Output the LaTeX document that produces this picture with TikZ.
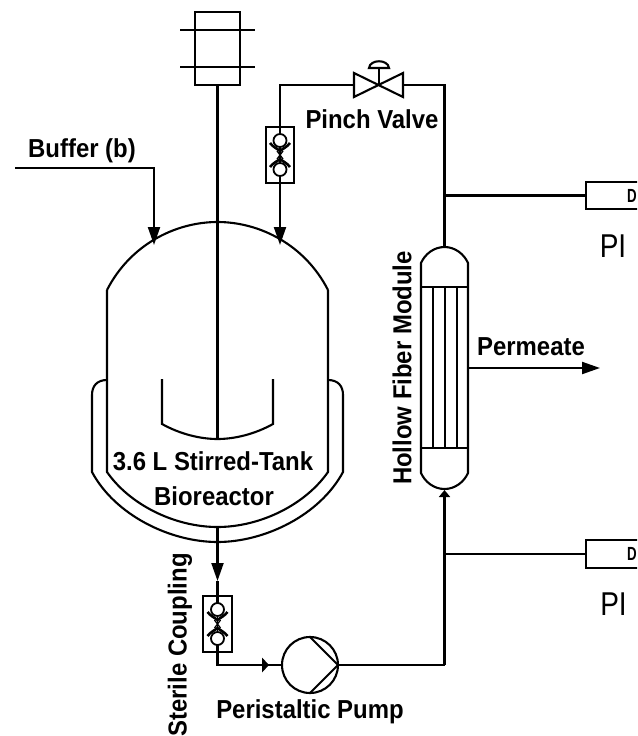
\documentclass[tikz,border=0pt]{standalone}
\usepackage{fontspec}
\setmainfont{Liberation Sans}
\usetikzlibrary{arrows.meta,calc}
\tikzset{
  lbl/.style={font=\fontsize{26}{28}\bfseries\selectfont,inner sep=0pt,xscale=.92},
  vlbl/.style={font=\fontsize{26}{28}\bfseries\selectfont,inner sep=0pt,rotate=90},
  boxn/.style={draw,inner sep=0pt,outer sep=0pt,rectangle},
  bigtip/.style={-{Triangle[length=18pt,width=12pt]}},
  pilabel/.style={font=\fontsize{33}{35}\selectfont,inner sep=0pt,xscale=.85},
  dlabel/.style={font=\fontsize{19}{21}\bfseries\selectfont,inner sep=0pt,anchor=west,xscale=.7},
}
\newcommand{\checkvalve}[1]{%
  \begin{scope}[shift={(#1)}]
    \draw[line width=1.8pt] (0,-14.5) circle[radius=6.5];
    \draw[line width=1.8pt] (0,14.5) circle[radius=6.5];
    \draw[line width=2.2pt] (0,-28) -- (0,-21);
    \draw[line width=2.2pt] (0,21) -- (0,28);
    \draw[line width=2.6pt] (-10,-12) .. controls (-7,-8) and (-3,-6.5) .. (0,-4) .. controls (3,-6.5) and (7,-8) .. (10,-12);
    \draw[line width=2.6pt] (-10,12) .. controls (-7,8) and (-3,6.5) .. (0,4) .. controls (3,6.5) and (7,8) .. (10,12);
    \draw[line width=1.3pt] (-3,-4) -- (3,4) (3,-4) -- (-3,4);
    \draw[line width=1.5pt] (0,-8) -- (0,8);
  \end{scope}}
\begin{document}
\begin{tikzpicture}[x=1pt,y=-1pt,line width=2.1pt]
\useasboundingbox (0,0) rectangle (637,736);
\clip (0,0) rectangle (637,736);

% named points
\coordinate (bufS) at (15,168);
\coordinate (bufC) at (154,168);
\coordinate (bufE) at (154,245);
\coordinate (shaftEnd) at (217.5,439);
\coordinate (vesBot) at (217.5,527);
\coordinate (jacBot) at (217.5,542);
\coordinate (retE) at (280,245);
\coordinate (tl) at (280,85);
\coordinate (tr) at (444.5,85);
\coordinate (modTop) at (444.5,247);
\coordinate (modBot) at (444.5,490);
\coordinate (br) at (444.5,665);
\coordinate (perm) at (600,368);
\coordinate (modR) at (468,368);
\coordinate (j1) at (444.5,195.5);
\coordinate (j2) at (444.5,554);
\coordinate (vL) at (354,85);
\coordinate (vR) at (403,85);
\coordinate (vC) at (379,85);

% motor
\node[boxn,minimum width=45pt,minimum height=73pt] (motor) at (217.5,48.5) {};
\draw (180,30) -- (255,30) (180,67) -- (255,67);
\draw (motor.south) -- (shaftEnd);

% vessel
\draw (107,290) .. controls (130,245) and (175,222) .. (217.5,222) .. controls (260,222) and (305,245) .. (328,290);
\draw (107,290) -- (107,472) .. controls (130,505) and (175,527) .. (vesBot) .. controls (260,527) and (305,505) .. (328,472) -- (328,290);
% jacket
\draw (107,380) .. controls (97,380) and (92,386) .. (92,395) -- (92,472) .. controls (115,515) and (170,542) .. (jacBot) .. controls (265,542) and (320,515) .. (343,472) -- (343,395) .. controls (343,386) and (338,380) .. (328,380);
% impeller
\draw (162,379) -- (162,424) .. controls (180,434) and (200,439) .. (shaftEnd) .. controls (235,439) and (255,434) .. (273,424) -- (273,379);

% buffer
\draw[bigtip] (bufS) -- (bufC) -- (bufE);

% top coupling
\node[boxn,minimum width=28pt,minimum height=56pt] (cplA) at (280,155) {};
\checkvalve{280,155}
\draw[bigtip] (cplA.south) -- (retE);
\draw (cplA.north) -- (tl) -- (vL);

% valve
\draw (354,73) -- (354,97) -- (403,73) -- (403,97) -- cycle;
\draw (vC) -- (379,68);
\draw (369,68) .. controls (370,59) and (388,59) .. (389,68) -- cycle;
\draw (vR) -- (tr) -- (modTop);

% module
\draw (444.5,247) .. controls (434,247) and (425,254) .. (421,263) -- (421,473) .. controls (425,482) and (434,489) .. (444.5,489) .. controls (455,489) and (464,482) .. (468,473) -- (468,263) .. controls (464,254) and (455,247) .. (444.5,247) -- cycle;
\draw (421,287) -- (468,287) (421,448) -- (468,448);
\draw (433,287) -- (433,448) (445,287) -- (445,448) (457,287) -- (457,448);
\draw[bigtip] (modR) -- (perm);

% bottom coupling
\node[boxn,minimum width=29pt,minimum height=56pt] (cplB) at (217.5,624) {};
\checkvalve{217.5,624}
\coordinate (tipB) at (217.5,581);
\draw[bigtip] (jacBot) -- (tipB);
\draw (vesBot) -- (jacBot);
\draw (tipB) -- (cplB.north);

% pump
\node[draw,circle,minimum size=56pt,inner sep=0pt,outer sep=0pt] (pump) at (310,665) {};
\draw (310,637) -- (pump.east) -- (310,693);
\coordinate (cplC) at (217.5,665);
\draw (cplB.south) -- (cplC) -- (pump.west);
\fill (262,657.5) -- (269,665) -- (262,672.5) -- cycle;
\draw (pump.east) -- (br);
\draw[-{Triangle[length=7pt,width=11pt]}] (br) -- (modBot);

% PI boxes
\node[boxn,minimum width=80pt,minimum height=27pt,anchor=west] (pia) at (586,195.5) {};
\node[boxn,minimum width=80pt,minimum height=28pt,anchor=west] (pib) at (586,554) {};
\draw (j1) -- (pia.west);
\draw (j2) -- (pib.west);
\node[dlabel] (da) at (626.5,195.5) {D};
\node[dlabel] (db) at (626.5,554) {D};
\node[pilabel] (pla) at (613,246) {PI};
\node[pilabel] (plb) at (613.5,604) {PI};

% labels
\node[lbl] (t1) at (82,151) {Buffer (b)};
\node[lbl] (t2) at (372,119) {Pinch Valve};
\node[lbl] (t3) at (531,347) {Permeate};
\node[lbl] (t4) at (213,461) {3.6 L Stirred-Tank};
\node[lbl] (t5) at (214,496) {Bioreactor};
\node[lbl] (t6) at (310,712) {Peristaltic Pump};
\node[vlbl] (t7) at (402,368) {\scalebox{.92}[1]{Hollow Fiber Module}};
\node[vlbl] (t8) at (180,645) {\scalebox{.92}[1]{Sterile Coupling}};
\end{tikzpicture}
\end{document}
